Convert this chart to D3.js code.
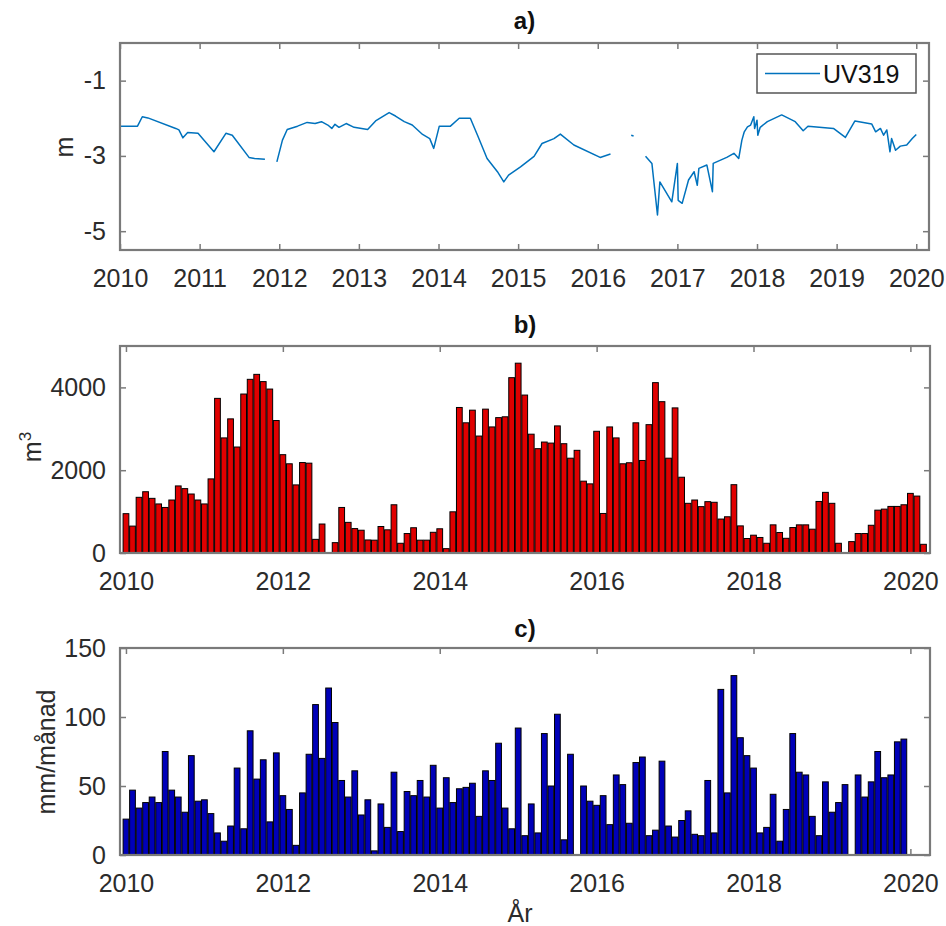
<!DOCTYPE html>
<html>
<head>
<meta charset="utf-8">
<script src="https://cdn.jsdelivr.net/npm/d3@7"></script>
<style>
  body { margin: 0; background: #fff; }
  svg { display: block; }
</style>
</head>
<body>
<div id="container"></div>
<script>
// a) grundvattennivå UV319 (m), null = avbrott i serien
const uvYears = [
  2010.00, 2010.22, 2010.28, 2010.35, 2010.70, 2010.74, 2010.79, 2010.85, 2010.98,
  2011.18, 2011.33, 2011.41, 2011.62, 2011.69, 2011.82, 2011.90,
  2011.97, 2012.04, 2012.10, 2012.23, 2012.35, 2012.45, 2012.53, 2012.61, 2012.66,
  2012.70, 2012.75, 2012.84, 2012.94, 2013.11, 2013.21, 2013.38, 2013.46, 2013.57,
  2013.67, 2013.80, 2013.89, 2013.94, 2014.01, 2014.15, 2014.26, 2014.40, 2014.49,
  2014.61, 2014.74, 2014.82, 2014.88, 2015.03, 2015.20, 2015.30, 2015.45, 2015.53,
  2015.70, 2016.03, 2016.16, 2016.30,
  2016.42, 2016.45, 2016.50,
  2016.60, 2016.68, 2016.75, 2016.78, 2016.93, 2017.00, 2017.01, 2017.06, 2017.14,
  2017.21, 2017.25, 2017.27, 2017.37, 2017.44, 2017.45, 2017.62, 2017.71, 2017.77,
  2017.81, 2017.84, 2017.88, 2017.92, 2017.96, 2017.97, 2018.00, 2018.01, 2018.04,
  2018.13, 2018.31, 2018.48, 2018.58, 2018.64, 2018.96, 2019.11, 2019.23, 2019.44,
  2019.49, 2019.55, 2019.59, 2019.63, 2019.67, 2019.69, 2019.74, 2019.80, 2019.88,
  2019.95, 2020.00
];
const uvLevels = [
  -2.21, -2.21, -1.96, -1.99, -2.27, -2.31, -2.52, -2.38, -2.40,
  -2.89, -2.40, -2.45, -3.04, -3.07, -3.09, null,
  -3.16, -2.58, -2.30, -2.21, -2.11, -2.14, -2.09, -2.18, -2.27,
  -2.16, -2.24, -2.14, -2.24, -2.30, -2.07, -1.85, -1.94, -2.09,
  -2.18, -2.43, -2.54, -2.80, -2.21, -2.21, -2.00, -2.00, -2.45,
  -3.07, -3.42, -3.69, -3.51, -3.29, -3.01, -2.67, -2.54, -2.42,
  -2.71, -3.04, -2.95, null,
  -2.45, -2.47, null,
  -3.01, -3.20, -4.57, -3.69, -4.22, -3.20, -4.18, -4.26, -3.64,
  -3.42, -3.78, -3.33, -3.24, -3.95, -3.20, -3.04, -2.93, -3.07,
  -2.58, -2.36, -2.23, -2.18, -1.96, -2.27, -2.05, -2.45, -2.24,
  -2.09, -1.91, -2.09, -2.33, -2.21, -2.27, -2.51, -2.07, -2.15,
  -2.36, -2.27, -2.45, -2.31, -2.89, -2.54, -2.85, -2.74, -2.71,
  -2.54, -2.43
];
const uvName = 'UV319';

// b) månadsvolym (m3), jan 2010 - mar 2020
const volumes = [
  950, 650, 1345, 1480, 1320, 1185, 1100, 1280, 1620, 1555, 1425, 1280,
  1185, 1790, 3735, 2780, 3240, 2560, 3840, 4195, 4315, 4140, 3960, 3200,
  2375, 2155, 1645, 2185, 2170, 330, 700, 0, 250, 1100, 740, 590,
  550, 315, 310, 640, 560, 1165, 235, 470, 610, 310, 310, 500,
  585, 105, 995, 3515, 3145, 3450, 2825, 3475, 3045, 3270, 3290, 4235,
  4585, 3815, 2870, 2520, 2680, 2655, 3070, 2640, 2290, 2480, 1735, 1670,
  2940, 955, 3045, 2780, 2155, 2180, 3145, 2235, 3100, 4115, 3655, 2290,
  3505, 1830, 1200, 1280, 1120, 1240, 1225, 820, 875, 1650, 655, 350,
  430, 375, 235, 680, 495, 355, 615, 680, 680, 575, 1245, 1465,
  1200, 235, 0, 275, 470, 470, 670, 1035, 1060, 1125, 1125, 1165,
  1440, 1375, 210
];

// c) nederbörd (mm/månad), jan 2010 - dec 2019
const rainfall = [
  26, 47, 34, 38, 42, 38, 75, 47, 42, 31, 72, 39,
  40, 30, 16, 10, 21, 63, 19, 90, 55, 69, 24, 74,
  43, 33, 7, 45, 73, 109, 70, 121, 96, 54, 42, 61,
  29, 40, 3, 37, 20, 60, 17, 46, 43, 54, 42, 65,
  34, 56, 38, 48, 49, 52, 28, 61, 54, 81, 34, 19,
  92, 14, 37, 16, 88, 50, 102, 11, 73, 0, 50, 39,
  36, 43, 22, 58, 51, 23, 67, 71, 14, 18, 68, 21,
  13, 25, 32, 15, 14, 54, 16, 120, 45, 130, 85, 72,
  63, 16, 20, 44, 10, 33, 88, 60, 58, 28, 14, 53,
  31, 38, 51, 0, 58, 42, 53, 75, 56, 58, 82, 84
];

const startYear = 2010;
const yearTicksA = d3.range(2010, 2021, 1);
const yearTicksBC = d3.range(2010, 2021, 2);
const levelTicks = [-5, -3, -1];
const volumeTicks = [0, 2000, 4000];
const rainTicks = [0, 50, 100, 150];

const width = 946, height = 926;
const font = '"Liberation Sans", Arial, Helvetica, sans-serif';
const boxColor = '#7a7a7a';
const textColor = '#2b2b2b';
const plain = d => String(d);   // bindestreck som i matlab, inte unicode-minus

const svg = d3.select('#container')
  .append('svg')
  .attr('width', width)
  .attr('height', height)
  .style('font-family', font);

function frame(p, xScale, yScale, xTicks, yTicks) {
  const g = svg.append('g');

  g.append('g')
    .attr('transform', `translate(0, ${p.bottom})`)
    .call(d3.axisBottom(xScale).tickValues(xTicks).tickFormat(plain)
      .tickSizeInner(-6).tickSizeOuter(0).tickPadding(19));
  g.append('g')
    .attr('transform', `translate(0, ${p.top})`)
    .call(d3.axisTop(xScale).tickValues(xTicks).tickFormat('')
      .tickSizeInner(-6).tickSizeOuter(0));
  g.append('g')
    .attr('transform', `translate(${p.left}, 0)`)
    .call(d3.axisLeft(yScale).tickValues(yTicks).tickFormat(plain)
      .tickSizeInner(-6).tickSizeOuter(0).tickPadding(14));
  g.append('g')
    .attr('transform', `translate(${p.right}, 0)`)
    .call(d3.axisRight(yScale).tickValues(yTicks).tickFormat('')
      .tickSizeInner(-6).tickSizeOuter(0));

  g.selectAll('.domain').remove();
  g.selectAll('.tick line').attr('stroke', boxColor).attr('stroke-width', 1.5);
  g.selectAll('.tick text')
    .attr('fill', textColor)
    .style('font-family', font)
    .style('font-size', '25px');
  g.selectAll('g').attr('font-family', null).attr('font-size', null);

  return g;
}

function box(p) {
  svg.append('rect')
    .attr('x', p.left).attr('y', p.top)
    .attr('width', p.right - p.left).attr('height', p.bottom - p.top)
    .attr('fill', 'none')
    .attr('stroke', boxColor)
    .attr('stroke-width', 2.2);
}

function title(p, txt, y) {
  svg.append('text')
    .attr('x', (p.left + p.right) / 2).attr('y', y)
    .attr('text-anchor', 'middle')
    .attr('font-weight', 'bold')
    .attr('font-size', 24)
    .attr('fill', '#111')
    .text(txt);
}

function yLabel(x, y) {
  return svg.append('text')
    .attr('transform', `translate(${x}, ${y}) rotate(-90)`)
    .attr('text-anchor', 'middle')
    .attr('font-size', 25)
    .attr('fill', textColor);
}

// ---- a) ----
const pa = { left: 120, right: 929, top: 43, bottom: 250 };
const xa = d3.scaleLinear().domain([2010, 2020.16]).range([pa.left, pa.right]);
const ya = d3.scaleLinear().domain([-5.5, 0]).range([pa.bottom, pa.top]);

frame(pa, xa, ya, yearTicksA, levelTicks);

const uvData = uvYears.map((t, i) => ({ t: t, v: uvLevels[i] }));
svg.append('path')
  .datum(uvData)
  .attr('fill', 'none')
  .attr('stroke', '#0072BD')
  .attr('stroke-width', 1.5)
  .attr('stroke-linejoin', 'round')
  .attr('d', d3.line().defined(d => d.v !== null).x(d => xa(d.t)).y(d => ya(d.v)));

box(pa);
title(pa, 'a)', 29);
yLabel(73, 147).text('m');

// legend
const lg = svg.append('g').attr('transform', 'translate(757, 54)');
lg.append('rect').attr('width', 159).attr('height', 39)
  .attr('fill', '#fff').attr('stroke', '#555').attr('stroke-width', 1.5);
lg.append('line').attr('x1', 8).attr('x2', 63).attr('y1', 19.5).attr('y2', 19.5)
  .attr('stroke', '#0072BD').attr('stroke-width', 1.5);
lg.append('text').attr('x', 66).attr('y', 29).attr('font-size', 25)
  .attr('fill', '#111').text(uvName);

// ---- b) ----
const pb = { left: 120, right: 930, top: 346, bottom: 553 };
const xb = d3.scaleLinear().domain([2009.924, 2020.25]).range([pb.left, pb.right]);
const yb = d3.scaleLinear().domain([0, 5000]).range([pb.bottom, pb.top]);
const barW = (xb(startYear + 1) - xb(startYear)) / 12 * 0.88;

frame(pb, xb, yb, yearTicksBC, volumeTicks);

svg.append('g')
  .selectAll('rect')
  .data(volumes)
  .enter()
  .append('rect')
  .attr('x', (d, i) => xb(startYear + i / 12) - barW / 2)
  .attr('width', barW)
  .attr('y', d => yb(d))
  .attr('height', d => yb(0) - yb(d))
  .attr('fill', '#e00000')
  .attr('stroke', '#000')
  .attr('stroke-width', 1);

box(pb);
title(pb, 'b)', 333);
const lb = yLabel(41, 447);
lb.append('tspan').text('m');
lb.append('tspan').attr('dy', -10).attr('font-size', 17).text('3');

// ---- c) ----
const pc = { left: 120, right: 930, top: 648, bottom: 855 };
const xc = d3.scaleLinear().domain([2009.924, 2020.25]).range([pc.left, pc.right]);
const yc = d3.scaleLinear().domain([0, 150]).range([pc.bottom, pc.top]);

frame(pc, xc, yc, yearTicksBC, rainTicks);

svg.append('g')
  .selectAll('rect')
  .data(rainfall)
  .enter()
  .append('rect')
  .attr('x', (d, i) => xc(startYear + i / 12) - barW / 2)
  .attr('width', barW)
  .attr('y', d => yc(d))
  .attr('height', d => yc(0) - yc(d))
  .attr('fill', '#0000b8')
  .attr('stroke', '#000')
  .attr('stroke-width', 1);

box(pc);
title(pc, 'c)', 637);
yLabel(55, 752).text('mm/månad');

svg.append('text')
  .attr('x', 520).attr('y', 922)
  .attr('text-anchor', 'middle')
  .attr('font-size', 25)
  .attr('fill', textColor)
  .text('År');
</script>
</body>
</html>
